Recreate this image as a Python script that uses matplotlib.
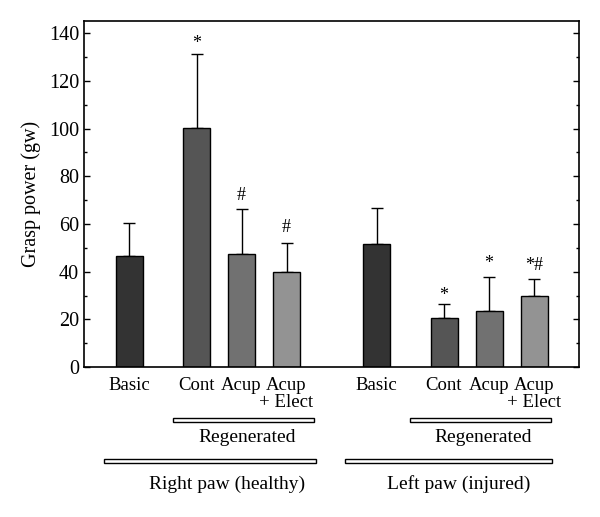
import matplotlib
matplotlib.use("Agg")
import matplotlib.pyplot as plt
from matplotlib.patches import Rectangle
from matplotlib.transforms import blended_transform_factory
from matplotlib.ticker import MultipleLocator

plt.rcParams['font.family'] = ['Liberation Serif', 'DejaVu Serif']

categories = ["Basic", "Cont", "Acup", "Acup\n+ Elect", "Basic", "Cont", "Acup", "Acup\n+ Elect"]
positions = [0, 1.5, 2.5, 3.5, 5.5, 7, 8, 9]
values = [46.7, 100.2, 47.5, 39.8, 51.8, 20.5, 23.3, 29.8]
errors = [13.5, 31.0, 18.7, 12.4, 14.7, 5.8, 14.5, 7.0]
marks = ["", "*", "#", "#", "", "*", "*", "*#"]
mark_y = [None, 135.5, 72, 58.5, None, 30, 43.5, 42.5]
colors = ["#333333", "#555555", "#717171", "#939393", "#333333", "#555555", "#717171", "#939393"]

group_labels = ["Regenerated", "Regenerated", "Right paw (healthy)", "Left paw (injured)"]
group_spans = [(0.97, 4.1), (6.24, 9.38), (-0.55, 4.15), (4.8, 9.41)]
group_text_x = [2.62, 7.87, 2.17, 7.32]

fig = plt.figure(figsize=(6.0, 5.17), dpi=100)
ax = fig.add_axes([0.14, 0.290, 0.825, 0.669])

ax.bar(positions, values, width=0.6, color=colors, edgecolor="black", linewidth=1.0, zorder=2)
ax.errorbar(positions, values, yerr=[[0] * len(errors), errors], fmt="none",
            ecolor="black", elinewidth=1.0, capsize=4, capthick=1.0, zorder=1)

for x, m, y in zip(positions, marks, mark_y):
    if m:
        ax.text(x, y, m, ha="center", va="center", fontsize=13)

ax.set_xlim(-1, 10)
ax.set_ylim(0, 145)
ax.yaxis.set_minor_locator(MultipleLocator(10))
ax.set_yticks(range(0, 141, 20))
ax.tick_params(axis="y", which="both", direction="in", left=True, right=True, labelsize=14.5)
ax.tick_params(axis="y", which="major", length=4.5, width=1.0)
ax.tick_params(axis="y", which="minor", length=2.5, width=1.0)
ax.set_xticks([])
for s in ax.spines.values():
    s.set_linewidth(1.2)
ax.set_ylabel("Grasp power (gw)", fontsize=14.5, labelpad=6)

trans = blended_transform_factory(ax.transData, fig.transFigure)

def fy(px):
    return (517 - px) / 517

for x, lab in zip(positions, categories):
    ax.text(x, fy(377), lab, transform=trans, ha="center", va="top",
            fontsize=13.5, linespacing=1.0)

rows = [420, 420, 461, 461]
text_rows = [438, 438, 484, 484]
for (x0, x1), ypx, lab, tx, typx in zip(group_spans, rows, group_labels, group_text_x, text_rows):
    r = Rectangle((x0, fy(ypx + 2)), x1 - x0, 4 / 517, transform=trans,
                  facecolor="white", edgecolor="black", linewidth=1.0, clip_on=False)
    fig.add_artist(r)
    ax.text(tx, fy(typx), lab, transform=trans, ha="center", va="center", fontsize=14)

fig.savefig("out.png", dpi=100)
